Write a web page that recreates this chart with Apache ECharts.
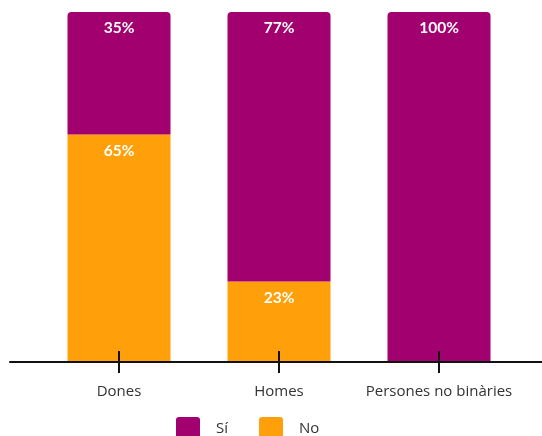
<!DOCTYPE html>
<html>
<head>
<meta charset="utf-8">
<script src="https://cdn.jsdelivr.net/npm/echarts@6/dist/echarts.min.js"></script>
<style>
  html, body { margin: 0; padding: 0; background: #fff; }
  #chart { width: 542px; height: 436px; }
</style>
</head>
<body>
<div id="chart"></div>
<script>
// Categories and percentages per group
const categories = ['Dones', 'Homes', 'Persones no binàries'];
const siValues = [35, 77, 100];
const noValues = [65, 23, 0];
const legendLabels = ['Sí', 'No'];

const PURPLE = '#a3006f';
const ORANGE = '#ffa00a';
const FONT = 'Lato, "Open Sans", sans-serif';
const TEXT_FONT = '"Open Sans", Lato, sans-serif';
const LEGEND_ICON = 'path://M3,0H21A3,3 0 0 1 24,3V20A3,3 0 0 1 21,23H3A3,3 0 0 1 0,20V3A3,3 0 0 1 3,0Z';

const chart = echarts.init(document.getElementById('chart'), null, { renderer: 'canvas' });

const pctLabel = {
  show: true,
  position: 'insideTop',
  distance: 8,
  color: '#fff',
  fontFamily: FONT,
  fontWeight: 'bold',
  fontSize: 15.5,
  formatter: p => (p.value ? p.value + '%' : '')
};

chart.setOption({
  animation: false,
  backgroundColor: '#fff',
  grid: [
    { left: 39, right: 23, top: 12, bottom: 74 },
    { left: 10, right: 0, top: 12, bottom: 74 }
  ],
  legend: {
    data: legendLabels,
    left: 176,
    top: 417,
    padding: 0,
    icon: LEGEND_ICON,
    itemWidth: 24,
    itemHeight: 23,
    itemGap: 31,
    textStyle: { color: '#333', fontFamily: TEXT_FONT, fontSize: 15, padding: [0, 0, 0, 11] }
  },
  xAxis: [
    {
      type: 'category',
      gridIndex: 0,
      data: categories,
      z: 5,
      axisLine: { show: false },
      axisTick: { show: true, alignWithLabel: true, length: 11, lineStyle: { color: '#111', width: 2 } },
      axisLabel: { interval: 0, color: '#333', fontFamily: TEXT_FONT, fontSize: 15, margin: 22 }
    },
    {
      // upward half of the tick marks
      type: 'category',
      gridIndex: 0,
      data: categories,
      position: 'bottom',
      z: 5,
      axisLine: { show: false },
      axisTick: { show: true, inside: true, alignWithLabel: true, length: 11, lineStyle: { color: '#111', width: 2 } },
      axisLabel: { show: false }
    },
    {
      // full-width baseline
      type: 'category',
      gridIndex: 1,
      data: categories,
      z: 4,
      axisLine: { show: true, lineStyle: { color: '#111', width: 2 } },
      axisTick: { show: false },
      axisLabel: { show: false }
    }
  ],
  yAxis: [
    { type: 'value', gridIndex: 0, min: 0, max: 100, show: false },
    { type: 'value', gridIndex: 1, min: 0, max: 100, show: false }
  ],
  series: [
    {
      name: 'No',
      type: 'bar',
      stack: 'total',
      xAxisIndex: 0,
      yAxisIndex: 0,
      barWidth: 103,
      data: noValues,
      itemStyle: { color: ORANGE },
      label: pctLabel
    },
    {
      name: 'Sí',
      type: 'bar',
      stack: 'total',
      xAxisIndex: 0,
      yAxisIndex: 0,
      barWidth: 103,
      data: siValues,
      itemStyle: { color: PURPLE, borderRadius: [4, 4, 0, 0] },
      label: pctLabel
    }
  ]
});
</script>
</body>
</html>
